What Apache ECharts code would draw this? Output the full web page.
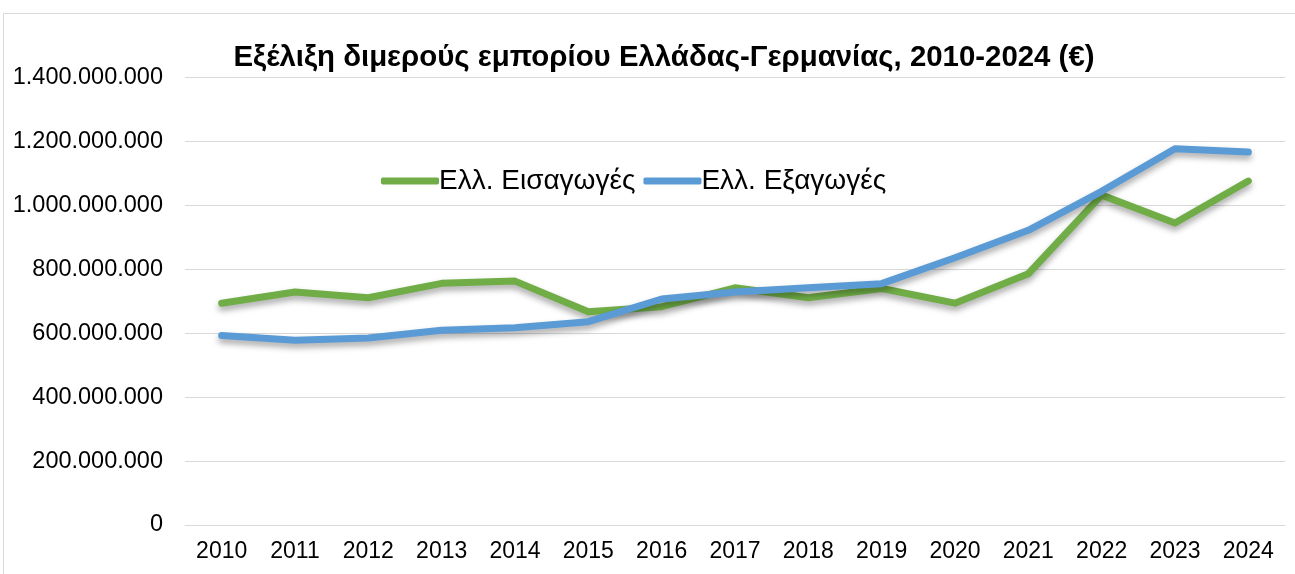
<!DOCTYPE html>
<html><head><meta charset="utf-8">
<script src="https://cdn.jsdelivr.net/npm/echarts@6/dist/echarts.min.js"></script>
<style>
html,body{margin:0;padding:0;background:#fff;}
#frame{position:absolute;left:3px;top:13px;width:1300px;height:580px;border:1px solid #d9d9d9;box-sizing:border-box;}
#c{position:absolute;left:0;top:0;width:1295px;height:574px;}
</style></head>
<body><div id="frame"></div><div id="c"></div>
<script>
const years = ['2010','2011','2012','2013','2014','2015','2016','2017','2018','2019','2020','2021','2022','2023','2024'];
const imports = [694e6,729e6,711e6,756e6,763e6,667e6,683e6,742e6,711e6,740e6,694e6,786e6,1032e6,945e6,1076e6];
const exports = [593e6,578e6,585e6,609e6,617e6,636e6,707e6,729e6,742e6,755e6,836e6,922e6,1044e6,1177e6,1167e6];
const seriesNames = ['Ελλ. Εισαγωγές','Ελλ. Εξαγωγές'];
const titleText = 'Εξέλιξη διμερούς εμπορίου Ελλάδας-Γερμανίας, 2010-2024 (€)';

function fmt(v){ return String(Math.round(v)).replace(/\B(?=(\d{3})+(?!\d))/g,'.'); }

const chart = echarts.init(document.getElementById('c'), null, {renderer:'canvas'});
const F = '"Liberation Sans", Arial, sans-serif';
chart.setOption({
  animation:false,
  backgroundColor:'transparent',
  title:{text:titleText,left:659,textAlign:'center',top:38,
    textStyle:{fontFamily:F,fontSize:29.4,fontWeight:'bold',color:'#000'}},
  legend:{left:376,top:162,itemWidth:58,itemHeight:7,itemGap:8,icon:'roundRect',
    textStyle:{fontFamily:F,fontSize:28,color:'#000',padding:[0,0,0,-5]},
    data:seriesNames},
  grid:{left:185,right:10,top:77.5,bottom:49,containLabel:false},
  xAxis:{type:'category',data:years,boundaryGap:true,
    axisLine:{lineStyle:{color:'#d9d9d9',width:1}},axisTick:{show:false},
    axisLabel:{fontFamily:F,fontSize:23,color:'#000',margin:15}},
  yAxis:{type:'value',min:0,max:1400000000,interval:200000000,
    axisLine:{show:false},axisTick:{show:false},
    splitLine:{lineStyle:{color:'#d9d9d9',width:1}},
    axisLabel:{fontFamily:F,fontSize:23.5,color:'#000',margin:22,formatter:fmt}},
  series:[
    {name:seriesNames[0],type:'line',data:imports,symbol:'none',
     lineStyle:{color:'#70AD47',width:7,cap:'round',join:'round',shadowColor:'rgba(0,0,0,0.35)',shadowBlur:6,shadowOffsetY:4},
     itemStyle:{color:'#70AD47'}},
    {name:seriesNames[1],type:'line',data:exports,symbol:'none',
     lineStyle:{color:'#5B9BD5',width:7,cap:'round',join:'round',shadowColor:'rgba(0,0,0,0.35)',shadowBlur:6,shadowOffsetY:4},
     itemStyle:{color:'#5B9BD5'}}
  ]
});
</script></body></html>
